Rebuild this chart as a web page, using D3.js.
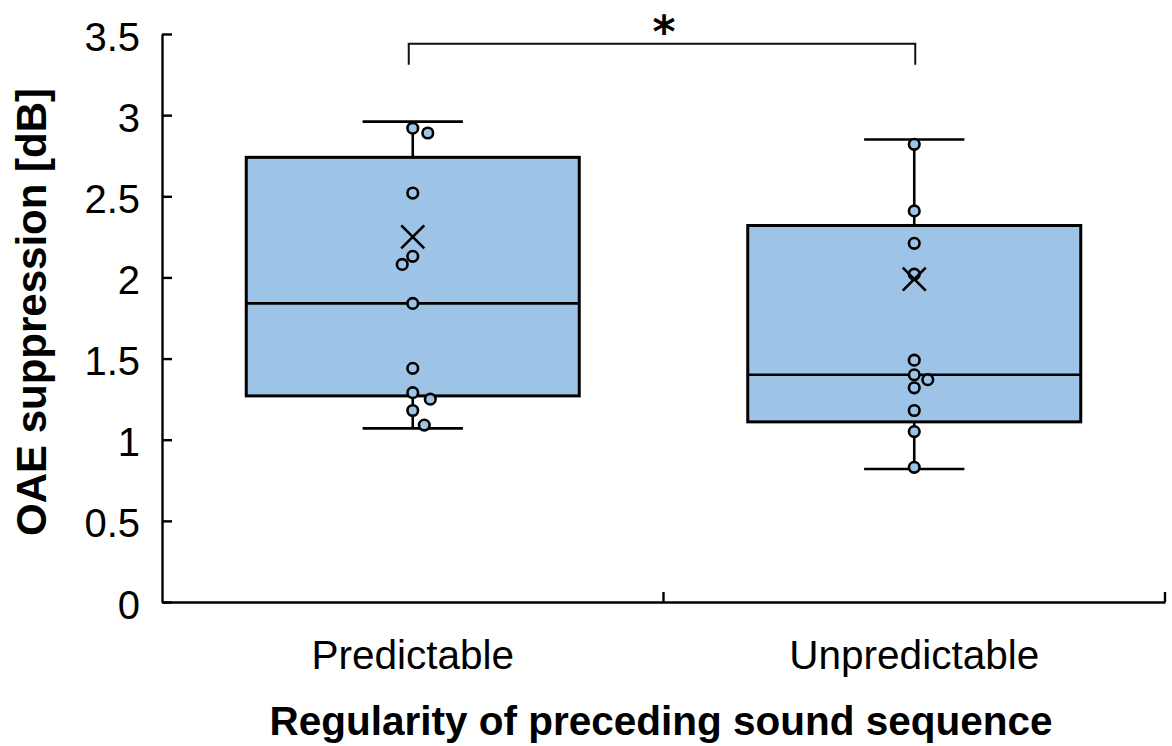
<!DOCTYPE html>
<html>
<head>
<meta charset="utf-8">
<script src="https://cdn.jsdelivr.net/npm/d3@7"></script>
<style>
  html, body { margin: 0; padding: 0; background: #fff; }
  svg { display: block; font-family: "Liberation Sans", Arial, sans-serif; }
</style>
</head>
<body>
<svg id="chart" width="1172" height="746"></svg>
<script>
// Groups on the x axis
const categories = ["Predictable", "Unpredictable"];

// Box summary per group [dB]
const whiskerLow  = [1.07, 0.82];
const quartile1   = [1.27, 1.11];
const median      = [1.84, 1.40];
const quartile3   = [2.74, 2.32];
const whiskerHigh = [2.96, 2.85];
const mean        = [2.25, 1.99];

// Individual subjects [dB]
const predictableValues   = [2.92, 2.89, 2.52, 2.13, 2.08, 1.84, 1.44, 1.29, 1.25, 1.18, 1.09];
const unpredictableValues = [2.82, 2.41, 2.21, 2.02, 1.49, 1.40, 1.37, 1.32, 1.18, 1.05, 0.83];
// Horizontal spread of the dots (fraction of category width) so they do not overlap
const predictableJitter   = [0, 0.030, 0, 0, -0.021, 0, 0, 0, 0.035, 0, 0.023];
const unpredictableJitter = [0, 0, 0, 0, 0, 0, 0.027, 0, 0, 0, 0];

const yTicks = [0, 0.5, 1, 1.5, 2, 2.5, 3, 3.5];

// Significance marker between the two groups
const significance = { label: "*", level: 3.44, drop: 0.13 };

const FILL = "#9dc3e6";
const INK = "#000";

const svg = d3.select("#chart");
const plot = { left: 162, right: 1165, top: 34, bottom: 602 };

const x = d3.scaleBand().domain(categories).range([plot.left, plot.right]).padding(0);
const y = d3.scaleLinear().domain([0, 3.5]).range([plot.bottom, plot.top]);
const bw = x.bandwidth();
const cx = c => x(c) + bw / 2;

// Y axis: ticks point into the plot
const yAxis = svg.append("g")
  .attr("transform", `translate(${plot.left},0)`)
  .call(d3.axisLeft(y).tickValues(yTicks).tickFormat(d3.format("~g"))
    .tickSizeInner(-10).tickSizeOuter(0).tickPadding(22));
yAxis.select(".domain").attr("stroke", INK).attr("stroke-width", 2.4);
yAxis.selectAll(".tick line").attr("stroke", INK).attr("stroke-width", 2.4);
yAxis.selectAll(".tick text")
  .attr("font-size", 40).attr("fill", INK).attr("dy", "0.4em")
  .attr("font-family", "Liberation Sans, Arial, sans-serif");

// X axis: labels under each group, ticks at group boundaries
const xAxis = svg.append("g")
  .attr("transform", `translate(0,${plot.bottom})`)
  .call(d3.axisBottom(x).tickSize(0).tickPadding(38));
xAxis.select(".domain").attr("stroke", INK).attr("stroke-width", 2.4);
xAxis.selectAll(".tick text")
  .attr("font-size", 40.5).attr("fill", INK)
  .attr("font-family", "Liberation Sans, Arial, sans-serif");

const boundaries = categories.map(c => x(c)).concat([x(categories[categories.length - 1]) + bw]).slice(1);
svg.append("g").selectAll("line").data(boundaries).join("line")
  .attr("x1", d => d).attr("x2", d => d)
  .attr("y1", plot.bottom).attr("y2", plot.bottom - 10)
  .attr("stroke", INK).attr("stroke-width", 2.4);

// Box plots
const boxW = bw * 0.664;
const capW = bw * 0.2;
const boxes = svg.append("g");
categories.forEach((c, i) => {
  const g = boxes.append("g");
  const m = cx(c);
  // whiskers
  g.append("line").attr("x1", m).attr("x2", m)
    .attr("y1", y(whiskerHigh[i])).attr("y2", y(quartile3[i]))
    .attr("stroke", INK).attr("stroke-width", 2.6);
  g.append("line").attr("x1", m).attr("x2", m)
    .attr("y1", y(quartile1[i])).attr("y2", y(whiskerLow[i]))
    .attr("stroke", INK).attr("stroke-width", 2.6);
  [whiskerHigh[i], whiskerLow[i]].forEach(v => {
    g.append("line").attr("x1", m - capW / 2).attr("x2", m + capW / 2)
      .attr("y1", y(v)).attr("y2", y(v))
      .attr("stroke", INK).attr("stroke-width", 2.6);
  });
  // box
  g.append("rect")
    .attr("x", m - boxW / 2).attr("width", boxW)
    .attr("y", y(quartile3[i])).attr("height", y(quartile1[i]) - y(quartile3[i]))
    .attr("fill", FILL).attr("stroke", INK).attr("stroke-width", 3);
  // median
  g.append("line").attr("x1", m - boxW / 2).attr("x2", m + boxW / 2)
    .attr("y1", y(median[i])).attr("y2", y(median[i]))
    .attr("stroke", INK).attr("stroke-width", 2.6);
});

// Individual points
const points = [
  { c: categories[0], vals: predictableValues, jit: predictableJitter },
  { c: categories[1], vals: unpredictableValues, jit: unpredictableJitter }
];
points.forEach(p => {
  svg.append("g").selectAll("circle")
    .data(p.vals.map((v, k) => ({ v, j: p.jit[k] })))
    .join("circle")
    .attr("cx", d => cx(p.c) + d.j * bw)
    .attr("cy", d => y(d.v))
    .attr("r", 5.3)
    .attr("fill", FILL).attr("stroke", INK).attr("stroke-width", 2.6);
});

// Mean markers (×)
const mk = 11.5;
categories.forEach((c, i) => {
  const m = cx(c), yy = y(mean[i]);
  svg.append("path")
    .attr("d", `M${m - mk},${yy - mk}L${m + mk},${yy + mk}M${m - mk},${yy + mk}L${m + mk},${yy - mk}`)
    .attr("stroke", INK).attr("stroke-width", 2.6).attr("fill", "none");
});

// Significance bracket
const bx1 = cx(categories[0]) - 4, bx2 = cx(categories[1]) + 1;
const by = y(significance.level), byDrop = y(significance.level - significance.drop);
svg.append("path")
  .attr("d", `M${bx1},${byDrop}V${by}H${bx2}V${byDrop}`)
  .attr("fill", "none").attr("stroke", "#111").attr("stroke-width", 2);
svg.append("text")
  .attr("x", (bx1 + bx2) / 2 + 2).attr("y", by + 3)
  .attr("text-anchor", "middle").attr("font-size", 44).attr("font-weight", "bold").attr("fill", INK)
  .attr("font-family", "DejaVu Sans, sans-serif")
  .text(significance.label);

// Axis titles
svg.append("text")
  .attr("transform", `translate(46,312) rotate(-90)`)
  .attr("text-anchor", "middle").attr("font-size", 42).attr("font-weight", "bold").attr("fill", INK)
  .text("OAE suppression [dB]");
svg.append("text")
  .attr("x", 661).attr("y", 735)
  .attr("text-anchor", "middle").attr("font-size", 40.5).attr("font-weight", "bold").attr("fill", INK)
  .text("Regularity of preceding sound sequence");
</script>
</body>
</html>
